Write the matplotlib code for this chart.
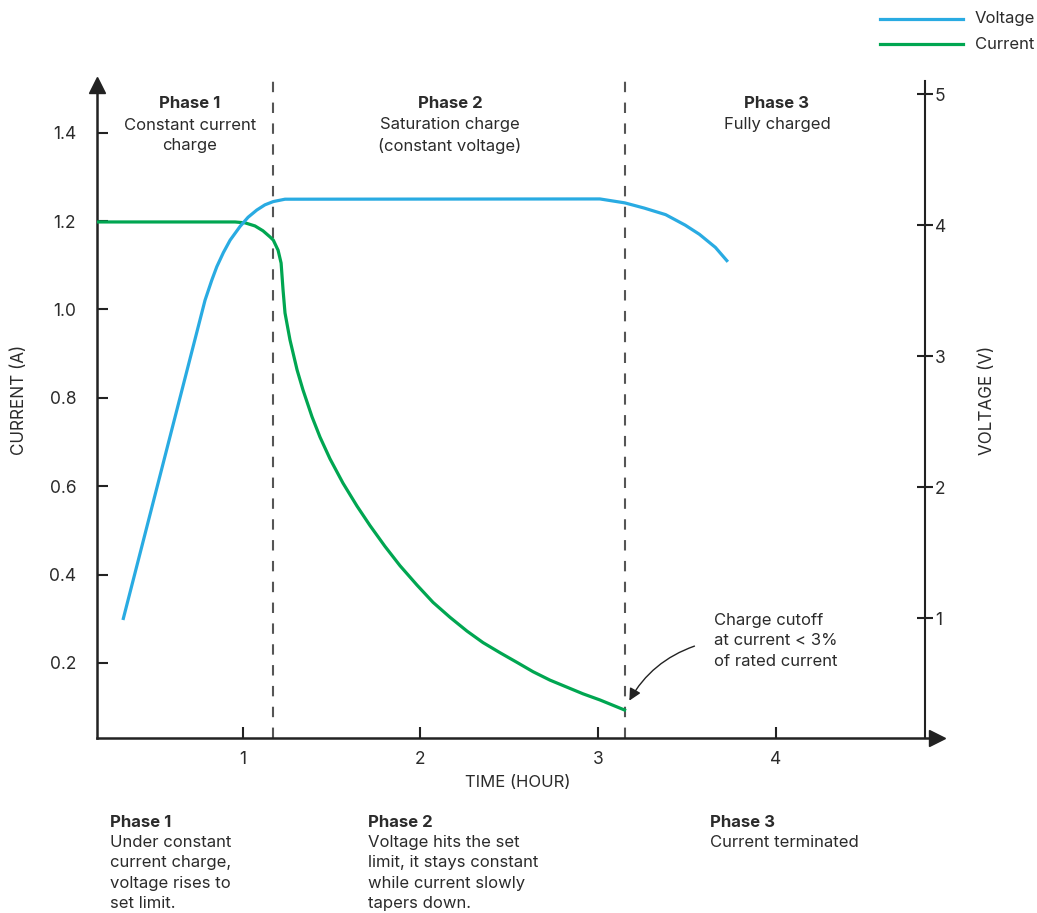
import matplotlib.pyplot as plt

# Data
current_time = [0.18, 0.50, 0.80, 0.957, 1.013, 1.069, 1.114, 1.154, 1.172, 1.199, 1.216,
                1.227, 1.238, 1.266, 1.306, 1.339, 1.390, 1.435, 1.491, 1.564, 1.643,
                1.716, 1.80, 1.885, 1.981, 2.071, 2.167, 2.262, 2.352, 2.448, 2.544,
                2.634, 2.729, 2.825, 2.915, 3.011, 3.157]
current_amp = [1.198, 1.198, 1.198, 1.198, 1.196, 1.189, 1.178, 1.164, 1.157, 1.134, 1.105,
               1.044, 0.992, 0.931, 0.863, 0.818, 0.757, 0.711, 0.662, 0.607, 0.555,
               0.511, 0.464, 0.420, 0.376, 0.337, 0.303, 0.272, 0.246, 0.223, 0.201,
               0.180, 0.161, 0.145, 0.130, 0.116, 0.092]

voltage_time = [0.326, 0.788, 0.826, 0.854, 0.891, 0.929, 0.985, 1.03, 1.079, 1.125, 1.172,
                1.238, 3.01, 3.15, 3.26, 3.38, 3.49, 3.57, 3.66, 3.73]
voltage_v = [0.985, 3.427, 3.58, 3.682, 3.79, 3.885, 3.99, 4.06, 4.115, 4.155, 4.18,
             4.198, 4.20, 4.17, 4.13, 4.08, 4.00, 3.93, 3.83, 3.72]

phase_bounds = [1.17, 3.15]
current_ticks = [0.2, 0.4, 0.6, 0.8, 1.0, 1.2, 1.4]
voltage_ticks = [1, 2, 3, 4, 5]
time_ticks = [1, 2, 3, 4]

blue = '#29abe2'
green = '#00a651'
txt = '#2b2b2b'
plt.rcParams['font.family'] = ['Inter', 'DejaVu Sans']

W, H = 1037, 913
fig = plt.figure(figsize=(W / 100, H / 100), dpi=100)


def fx(px):
    return px / W


def fy(py):
    return 1 - py / H


ax = fig.add_axes([fx(97), fy(738), fx(937) - fx(97), fy(85) - fy(738)])
ax.set_xlim(0.18, 4.907)
ax.set_ylim(0.03, 1.508)

ax2 = ax.twinx()
ax2.set_ylim(0.084, 5.07)

ax.plot(current_time, current_amp, color=green, lw=2.3, solid_capstyle='butt',
        solid_joinstyle='round', zorder=3)
ax2.plot(voltage_time, voltage_v, color=blue, lw=2.3, solid_capstyle='butt',
         solid_joinstyle='round', zorder=3)

for xb in phase_bounds:
    ax.plot([xb, xb], [0, 1.01], transform=ax.get_xaxis_transform(), color='#555555',
            lw=1.5, dashes=(5, 5), clip_on=False, zorder=2)

# spines
for s in ['top', 'right']:
    ax.spines[s].set_visible(False)
for s in ['top', 'left', 'bottom']:
    ax2.spines[s].set_visible(False)
ax.spines['left'].set_linewidth(1.8)
ax.spines['bottom'].set_linewidth(1.8)
ax.spines['left'].set_color('#222222')
ax.spines['bottom'].set_color('#222222')
ax2.spines['right'].set_position(('data', 4.84))
ax2.spines['right'].set_linewidth(1.5)
ax2.spines['right'].set_color('#222222')
ax2.spines['right'].set_bounds(0.084, 5.1)

# axis arrows
ax.plot(0, 1, '^', color='#222222', ms=11, transform=ax.transAxes, clip_on=False)
ax.plot(1, 0, '>', color='#222222', ms=11, transform=ax.transAxes, clip_on=False)

ax.set_yticks(current_ticks)
ax.set_yticklabels([f'{v:.1f}' for v in current_ticks])
ax.set_xticks(time_ticks)
ax2.set_yticks(voltage_ticks)
ax.tick_params(axis='y', direction='in', length=8, width=1.5, color='#222222',
               labelsize=12.5, labelcolor=txt, pad=15)
ax.tick_params(axis='x', direction='in', length=8, width=1.5, color='#222222',
               labelsize=12.5, labelcolor=txt, pad=9)
ax2.tick_params(axis='y', direction='inout', length=12, width=1.5, color='#222222',
                labelsize=12.5, labelcolor=txt, pad=1)

# axis labels
fig.text(fx(20), fy(400), 'CURRENT (A)', rotation=90, ha='center', va='center',
         fontsize=12.3, color=txt)
fig.text(fx(988), fy(400), 'VOLTAGE (V)', rotation=90, ha='center', va='center',
         fontsize=12.3, color=txt)
fig.text(fx(518), fy(782), 'TIME (HOUR)', ha='center', va='center', fontsize=12, color=txt)

# phase titles in the plot
tops = [(190, ['Constant current', 'charge'], 'Phase 1'),
        (450, ['Saturation charge', '(constant voltage)'], 'Phase 2'),
        (777, ['Fully charged'], 'Phase 3')]
for cx, lines, title in tops:
    fig.text(fx(cx), fy(103), title, ha='center', va='center', fontsize=12,
             fontweight='bold', color=txt)
    for i, line in enumerate(lines):
        fig.text(fx(cx), fy(125 + 20.5 * i), line, ha='center', va='center',
                 fontsize=12, color=txt)

# cutoff note
for i, line in enumerate(['Charge cutoff', 'at current < 3%', 'of rated current']):
    fig.text(fx(714), fy(620 + 20.5 * i), line, ha='left', va='center', fontsize=12, color=txt)
ax.annotate('', xy=(3.168, 0.109), xytext=(3.557, 0.24),
            arrowprops=dict(arrowstyle='-|>', color='#222222', lw=1,
                            mutation_scale=18, connectionstyle='arc3,rad=0.2'))

# bottom notes
notes = [(110, 'Phase 1', ['Under constant', 'current charge,', 'voltage rises to', 'set limit.']),
         (368, 'Phase 2', ['Voltage hits the set', 'limit, it stays constant',
                           'while current slowly', 'tapers down.']),
         (710, 'Phase 3', ['Current terminated'])]
for lx, title, lines in notes:
    fig.text(fx(lx), fy(822), title, ha='left', va='center', fontsize=12,
             fontweight='bold', color=txt)
    for i, line in enumerate(lines):
        fig.text(fx(lx), fy(842 + 20.5 * i), line, ha='left', va='center',
                 fontsize=12, color=txt)

# legend
for i, (name, col) in enumerate([('Voltage', blue), ('Current', green)]):
    yy = fy(19 + 25.5 * i)
    fig.add_artist(plt.Line2D([fx(880), fx(963)], [yy, yy], color=col, lw=2.3))
    fig.text(fx(975), yy, name, ha='left', va='center', fontsize=12, color=txt)

fig.savefig('out.png', dpi=100)
